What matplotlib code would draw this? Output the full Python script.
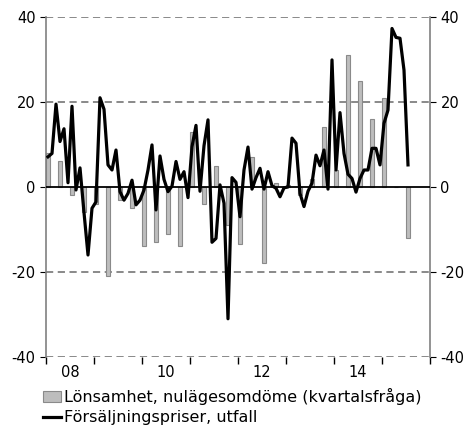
import numpy as np
import matplotlib
matplotlib.use("Agg")
import matplotlib.pyplot as plt

# Monthly sales prices, Jan 2008 - Jul 2015
prices = [7.1, 7.9, 19.5, 10.7, 13.7, 1.0, 19.0, -0.7, 4.5, -6.0,
          -16.0, -5.0, -3.5, 21.0, 18.3, 5.2, 4.0, 8.7, -1.1, -3.1,
          -1.5, 1.6, -4.2, -3.1, -0.7, 4.0, 9.9, -5.4, 7.3, 1.8,
          -1.1, 0.2, 6.0, 1.8, 3.6, -2.5, 9.5, 14.5, -1.0, 9.7,
          15.8, -13.0, -12.1, 0.5, -3.8, -31.0, 2.2, 1.1, -7.0, 4.0,
          9.4, -0.5, 2.2, 4.4, -0.5, 3.6, 0.3, -0.3, -2.3, -0.2,
          0.0, 11.5, 10.3, -1.5, -4.6, -1.0, 0.9, 7.5, 5.0, 8.7,
          -0.5, 29.9, 4.0, 17.5, 7.9, 3.0, 2.0, -1.2, 2.0, 4.0,
          4.0, 9.1, 9.1, 5.2, 15.0, 18.1, 37.3, 35.2, 35.0, 27.5,
          5.2]

# Quarterly profitability, 2008Q1 - 2015Q3
profit = [8, 6, -2, -6, -4, -21, -3, -5, -14, -13,
          -11, -14, 13, -4, 5, -9, -13.3, 7, -18, 1,
          0.5, -2, 1.8, 14, 4, 31, 25, 16, 21, 0,
          -12]

year_labels = ["08", "", "10", "", "12", "", "14", ""]
labels = ["Lönsamhet, nulägesomdöme (kvartalsfråga)",
          "Försäljningspriser, utfall"]

x_line = 2008 + (np.arange(len(prices)) + 0.5) / 12
x_bar = 2008 + (np.arange(len(profit)) * 3 + 0.6) / 12

fig = plt.figure(figsize=(4.67, 4.25), dpi=100)
ax = fig.add_axes([46 / 467, 1 - 357 / 425, 384 / 467, 340 / 425])

gray = "#808080"
for v in [-40, -20, 20, 40]:
    ax.axhline(v, color=gray, lw=1.3, ls=(0, (4, 2.5)), zorder=1)

bars = ax.bar(x_bar, profit, width=1.0 / 12, color="#bdbdbd",
              edgecolor="#8a8a8a", linewidth=0.8, zorder=2, label=labels[0])
ax.axhline(0, color="black", lw=1.3, zorder=3)
line, = ax.plot(x_line, prices, color="black", lw=2.3, zorder=4,
                label=labels[1])

ax.set_xlim(2008, 2016)
ax.set_ylim(-40, 40)

ax.set_xticks(np.arange(2008, 2017))
ax.set_xticklabels([])
ax.set_xticks(np.arange(2008, 2016) + 0.5, minor=True)
ax.set_xticklabels(year_labels, minor=True)
ax.tick_params(axis="x", which="major", length=5, color="black", width=1)
ax.tick_params(axis="x", which="minor", length=0, pad=6, labelsize=10.5)

ax.set_yticks([-40, -20, 0, 20, 40])
ax.set_yticklabels(["-40", "-20", "0", "20", "40"])
ax.tick_params(axis="y", length=4, color="black", labelsize=10.5,
               left=True, right=True, labelleft=True, labelright=True)

for s in ["top", "bottom"]:
    ax.spines[s].set_visible(False)
for s in ["left", "right"]:
    ax.spines[s].set_color(gray)
    ax.spines[s].set_linewidth(1.2)

fig.legend(handles=[bars, line], labels=labels, loc="upper left",
           bbox_to_anchor=(43 / 467, 1 - 388 / 425), frameon=False,
           fontsize=11.5, handlelength=1.1, handletextpad=0.2,
           labelspacing=0.32, borderaxespad=0, borderpad=0)

fig.savefig("out.png", dpi=100)
